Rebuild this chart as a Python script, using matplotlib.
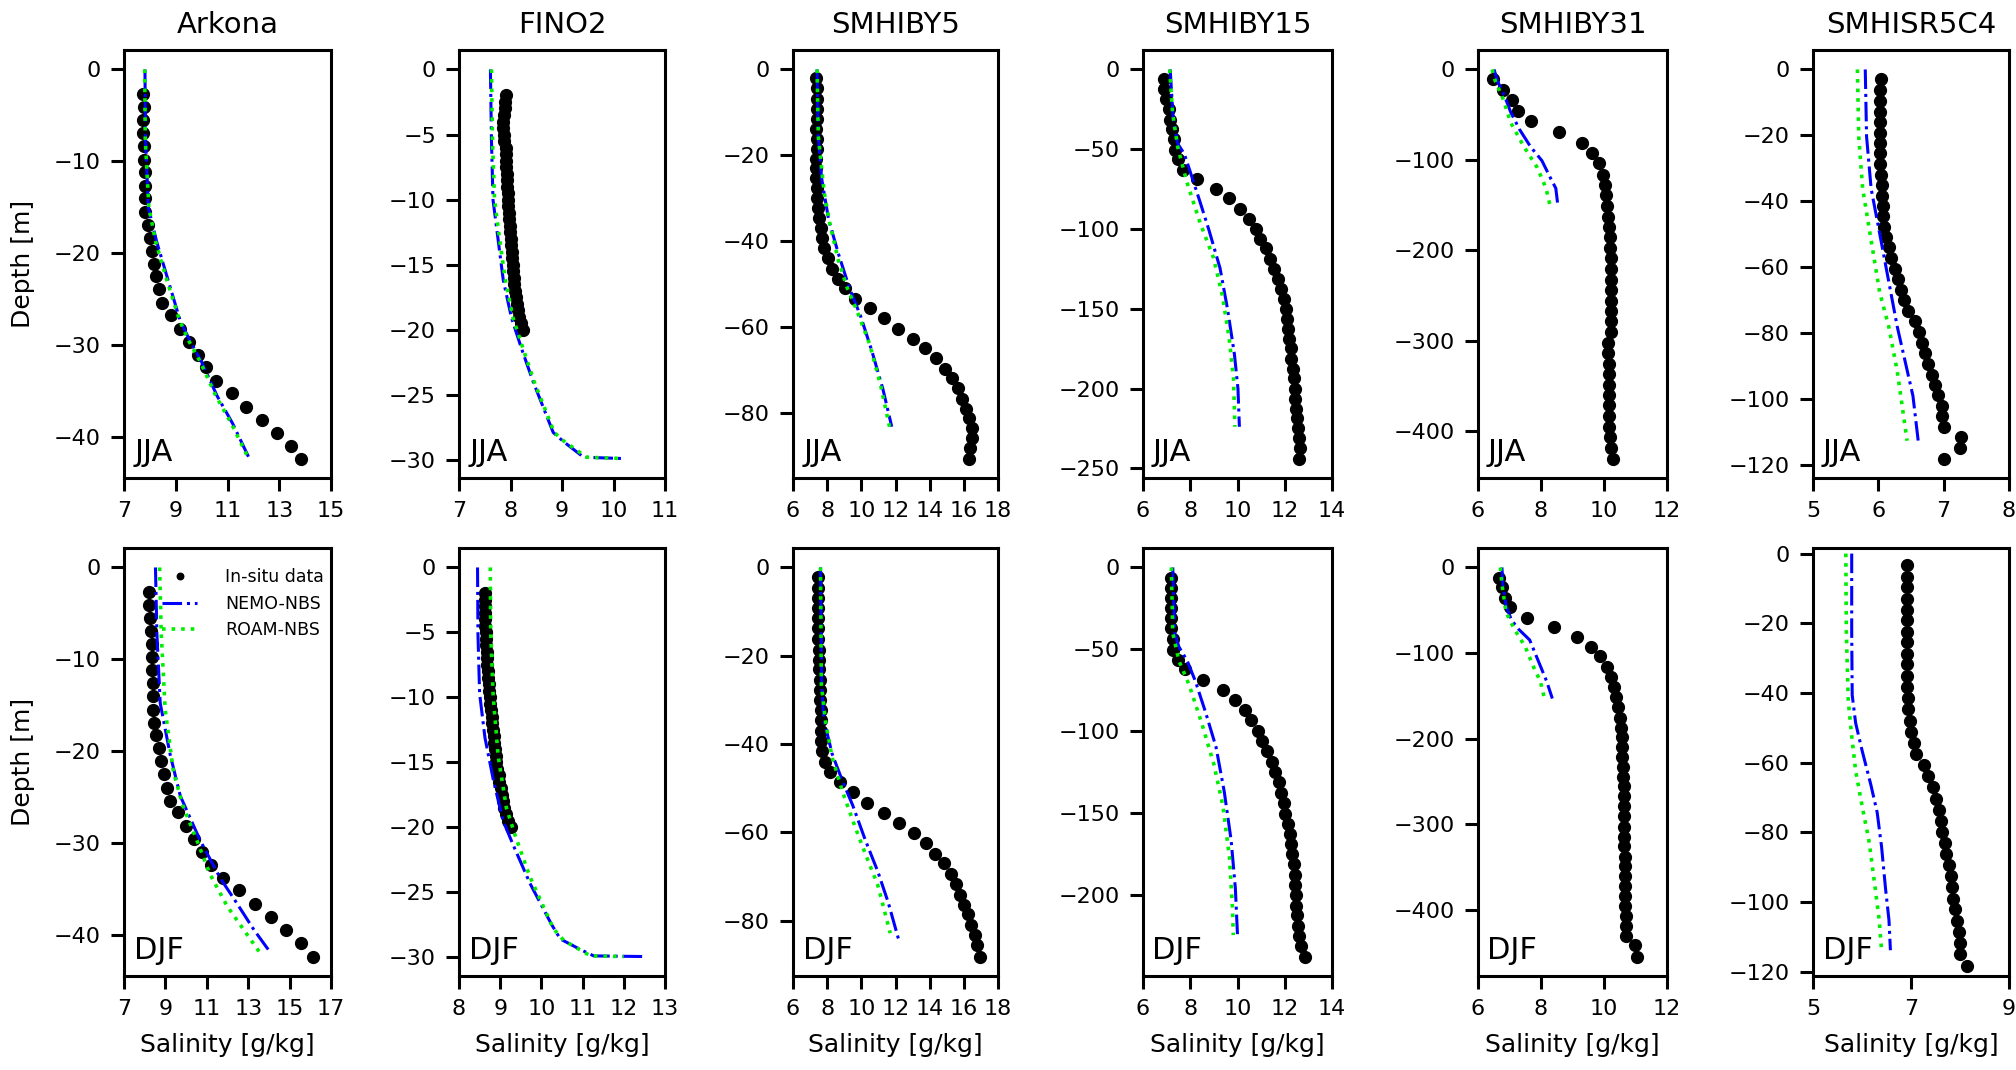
import matplotlib
matplotlib.use("Agg")
import matplotlib.pyplot as plt
from matplotlib.ticker import MultipleLocator

# ---- station names and season labels ----
stations = ["Arkona", "FINO2", "SMHIBY5", "SMHIBY15", "SMHIBY31", "SMHISR5C4"]
seasons = ["JJA", "DJF"]

# ---- Arkona ----
arkona_jja_obs_z = [-2.7, -4.1, -5.5, -6.9, -8.3, -9.8, -11.1, -12.7, -14.0, -15.5, -16.9, -18.3, -19.7,
                    -21.1, -22.5, -23.9, -25.4, -26.7, -28.2, -29.6, -31.0, -32.4, -33.9, -35.2, -36.7,
                    -38.1, -39.5, -40.9, -42.3]
arkona_jja_obs_s = [7.72, 7.77, 7.74, 7.75, 7.76, 7.77, 7.80, 7.80, 7.83, 7.83, 7.92, 8.01, 8.08,
                    8.16, 8.24, 8.34, 8.48, 8.81, 9.17, 9.50, 9.85, 10.17, 10.56, 11.19, 11.72,
                    12.35, 12.90, 13.45, 13.84]
arkona_jja_nemo_z = [0, -7.5, -15.0, -18.7, -22.4, -27.3, -29.5, -31.8, -35.5, -38.5, -42.1]
arkona_jja_nemo_s = [7.81, 7.83, 7.94, 8.26, 8.65, 9.17, 9.55, 10.0, 10.6, 11.2, 11.81]
arkona_jja_roam_z = [0, -7.5, -15.0, -18.7, -22.4, -27.3, -29.5, -31.8, -35.5, -38.5, -42.1]
arkona_jja_roam_s = [7.80, 7.82, 7.96, 8.22, 8.60, 9.15, 9.50, 9.95, 10.55, 11.15, 11.78]

arkona_djf_obs_z = [-2.7, -4.1, -5.5, -6.9, -8.3, -9.8, -11.2, -12.6, -14.0, -15.5, -16.9, -18.3, -19.7,
                    -21.1, -22.5, -24.0, -25.4, -26.7, -28.2, -29.6, -31.0, -32.4, -33.8, -35.2, -36.7,
                    -38.1, -39.5, -40.9, -42.4]
arkona_djf_obs_s = [8.21, 8.21, 8.26, 8.29, 8.34, 8.34, 8.36, 8.39, 8.39, 8.39, 8.47, 8.57, 8.68,
                    8.81, 8.91, 9.06, 9.20, 9.61, 9.98, 10.37, 10.79, 11.21, 11.79, 12.57, 13.31,
                    14.09, 14.83, 15.54, 16.13]
arkona_djf_nemo_z = [0, -7.3, -14.8, -20.4, -24.9, -29.8, -33.9, -36.1, -39.5, -41.8]
arkona_djf_nemo_s = [8.52, 8.59, 8.75, 9.23, 9.72, 10.69, 11.66, 12.31, 13.28, 14.02]
arkona_djf_roam_z = [0, -7.3, -15.5, -22.3, -26.0, -29.8, -33.5, -36.9, -39.5, -42.1]
arkona_djf_roam_s = [8.72, 8.80, 8.99, 9.39, 9.85, 10.53, 11.17, 11.98, 12.79, 13.60]

# ---- FINO2 ----
fino2_obs_z = [-2.0, -2.5, -3.0, -3.5, -4.0, -4.5, -5.0, -5.5, -6.0, -6.5, -7.0, -7.5, -8.0, -8.5,
               -9.0, -9.5, -10.0, -10.5, -11.0, -11.5, -12.0, -12.5, -13.0, -13.5, -14.0, -14.5,
               -15.0, -15.5, -16.0, -16.5, -17.0, -17.5, -18.0, -18.5, -19.0, -19.5, -20.0]
fino2_jja_obs_s = [7.91, 7.90, 7.89, 7.88, 7.86, 7.86, 7.87, 7.88, 7.91, 7.91, 7.92, 7.92, 7.93, 7.93,
                   7.94, 7.95, 7.96, 7.96, 7.97, 7.98, 7.99, 7.99, 8.00, 8.01, 8.02, 8.03,
                   8.04, 8.05, 8.06, 8.07, 8.09, 8.10, 8.12, 8.14, 8.17, 8.20, 8.24]
fino2_jja_nemo_z = [0, -5.4, -10.0, -13.1, -16.2, -19.1, -21.4, -24.0, -26.0, -27.9, -28.6, -29.8, -29.9]
fino2_jja_nemo_s = [7.61, 7.63, 7.66, 7.76, 7.86, 8.02, 8.21, 8.44, 8.64, 8.83, 9.03, 9.42, 10.19]
fino2_jja_roam_z = [0, -5.4, -10.0, -13.1, -16.2, -19.1, -21.4, -24.0, -26.0, -27.9, -28.6, -29.8, -29.9]
fino2_jja_roam_s = [7.63, 7.65, 7.69, 7.79, 7.90, 8.05, 8.24, 8.46, 8.66, 8.85, 9.05, 9.48, 10.20]

fino2_djf_obs_s = [8.63, 8.62, 8.62, 8.63, 8.63, 8.64, 8.65, 8.66, 8.66, 8.67, 8.68, 8.69, 8.70, 8.71,
                   8.72, 8.74, 8.75, 8.76, 8.78, 8.79, 8.81, 8.82, 8.84, 8.86, 8.87, 8.89,
                   8.91, 8.93, 8.96, 8.98, 9.01, 9.04, 9.07, 9.10, 9.14, 9.19, 9.25]
fino2_djf_nemo_z = [0, -5.1, -9.7, -13.1, -16.3, -19.5, -21.4, -24.3, -27.5, -28.6, -29.4, -29.9, -29.95]
fino2_djf_nemo_s = [8.45, 8.46, 8.50, 8.63, 8.83, 9.07, 9.32, 9.72, 10.25, 10.46, 10.94, 11.27, 12.49]
fino2_djf_roam_z = [0, -5.1, -9.9, -14.5, -18.5, -20.6, -23.8, -27.8, -28.7, -29.9, -29.95]
fino2_djf_roam_s = [8.76, 8.77, 8.83, 8.95, 9.15, 9.36, 9.72, 10.29, 10.54, 11.19, 12.0]

# ---- SMHIBY5 ----
by5_jja_obs_z = [-2.0, -4.4, -6.8, -9.1, -11.5, -13.8, -16.2, -18.5, -20.8, -23.0, -25.3, -27.6, -30.0,
                 -32.3, -34.6, -36.9, -39.3, -41.5, -43.8, -46.4, -48.7, -50.9, -53.3, -55.6, -57.9,
                 -60.3, -62.8, -64.8, -67.2, -69.7, -71.8, -74.1, -76.6, -78.9, -81.1, -83.4, -85.7,
                 -88.1, -90.5]
by5_jja_obs_s = [7.35, 7.41, 7.41, 7.41, 7.41, 7.35, 7.41, 7.41, 7.35, 7.35, 7.35, 7.41, 7.41,
                 7.46, 7.51, 7.61, 7.72, 7.82, 8.03, 8.29, 8.66, 9.02, 9.65, 10.48, 11.34,
                 12.17, 13.00, 13.73, 14.39, 14.90, 15.32, 15.64, 15.90, 16.10, 16.31, 16.47, 16.47,
                 16.34, 16.31]
by5_jja_nemo_z = [0, -15.5, -25.2, -34.8, -42.9, -50.9, -57.4, -65.4, -74.3, -83.1]
by5_jja_nemo_s = [7.41, 7.48, 7.67, 8.08, 8.66, 9.31, 9.96, 10.61, 11.26, 11.78]
by5_jja_roam_z = [0, -15.5, -28.4, -35.6, -44.5, -50.9, -55.7, -63.8, -73.5, -83.1]
by5_jja_roam_s = [7.41, 7.48, 7.82, 8.14, 8.66, 9.18, 9.70, 10.48, 11.13, 11.65]

by5_djf_obs_z = [-2.2, -4.7, -6.9, -9.2, -11.5, -13.8, -16.3, -18.6, -20.9, -23.0, -25.5, -27.7, -29.9,
                 -32.3, -34.5, -37.0, -39.2, -41.6, -44.0, -46.3, -48.6, -50.9, -53.3, -55.5, -57.8,
                 -60.2, -62.5, -64.8, -67.0, -69.4, -71.7, -74.1, -76.4, -78.5, -80.9, -83.2, -85.5,
                 -88.1]
by5_djf_obs_s = [7.48, 7.48, 7.48, 7.48, 7.48, 7.48, 7.48, 7.53, 7.53, 7.53, 7.56, 7.56, 7.56,
                 7.61, 7.61, 7.61, 7.66, 7.71, 7.90, 8.19, 8.77, 9.50, 10.31, 11.33, 12.18,
                 13.06, 13.76, 14.32, 14.86, 15.25, 15.54, 15.78, 16.02, 16.22, 16.41, 16.66, 16.75,
                 16.97]
by5_djf_nemo_z = [0, -26.6, -34.4, -42.2, -48.4, -53.9, -61.7, -68.8, -75.8, -84.2]
by5_djf_nemo_s = [7.61, 7.68, 7.80, 8.29, 8.90, 9.50, 10.23, 10.96, 11.57, 12.18]
by5_djf_roam_z = [0, -26.6, -35.2, -43.0, -50.8, -58.6, -64.8, -71.9, -82.8]
by5_djf_roam_s = [7.61, 7.66, 7.92, 8.29, 8.90, 9.62, 10.23, 10.96, 11.69]

# ---- SMHIBY15 ----
by15_jja_obs_z = [-5.8, -12.3, -18.4, -24.9, -31.4, -37.4, -43.7, -50.2, -56.3, -62.8, -68.6, -74.7,
                  -80.7, -87.2, -93.5, -99.8, -106.1, -112.1, -118.6, -124.9, -131.4, -137.4, -143.9,
                  -150.0, -156.3, -162.6, -168.8, -174.9, -181.2, -187.7, -193.7, -200.2, -206.5,
                  -212.8, -218.6, -224.9, -231.0, -237.4, -243.9]
by15_jja_obs_s = [6.89, 6.91, 6.96, 7.08, 7.15, 7.23, 7.30, 7.34, 7.47, 7.70, 8.30, 9.09,
                  9.66, 10.11, 10.49, 10.77, 10.96, 11.19, 11.38, 11.55, 11.72, 11.85, 11.96,
                  12.04, 12.09, 12.13, 12.19, 12.25, 12.28, 12.34, 12.38, 12.42, 12.43,
                  12.47, 12.53, 12.57, 12.60, 12.64, 12.60]
by15_jja_nemo_z = [0, -31.4, -46.5, -53.0, -66.0, -83.3, -100.6, -124.5, -150.4, -178.6, -200.2, -224.0]
by15_jja_nemo_s = [7.15, 7.28, 7.47, 7.75, 8.04, 8.42, 8.79, 9.26, 9.58, 9.87, 10.02, 10.08]
by15_jja_roam_z = [0, -27.1, -48.7, -70.3, -96.3, -117.9, -141.8, -167.7, -193.7, -224.0]
by15_jja_roam_s = [7.13, 7.25, 7.47, 7.85, 8.42, 8.98, 9.36, 9.64, 9.83, 9.89]

by15_djf_obs_z = [-6.3, -12.7, -18.6, -24.7, -31.0, -37.3, -43.9, -50.2, -56.5, -62.2, -69.0, -74.9,
                  -81.0, -87.3, -93.5, -99.8, -105.9, -112.2, -119.2, -124.9, -131.2, -137.6, -144.1,
                  -150.4, -156.8, -162.9, -168.8, -175.1, -181.4, -187.8, -194.1, -200.4, -206.8,
                  -212.7, -219.0, -225.1, -231.4, -237.8]
by15_djf_obs_s = [7.19, 7.17, 7.20, 7.20, 7.20, 7.20, 7.26, 7.29, 7.47, 7.78, 8.53, 9.39,
                  9.89, 10.31, 10.59, 10.85, 11.03, 11.25, 11.46, 11.59, 11.74, 11.86, 11.95,
                  12.02, 12.14, 12.23, 12.27, 12.32, 12.39, 12.42, 12.42, 12.47, 12.49,
                  12.53, 12.56, 12.61, 12.67, 12.84]
by15_djf_nemo_z = [0, -40.1, -48.5, -57.0, -69.6, -88.6, -109.7, -137.1, -166.7, -196.2, -224.7]
by15_djf_nemo_s = [7.26, 7.34, 7.52, 7.87, 8.22, 8.65, 9.09, 9.44, 9.73, 9.91, 10.0]
by15_djf_roam_z = [0, -40.1, -57.0, -71.7, -94.9, -120.3, -145.6, -177.2, -208.9, -224.7]
by15_djf_roam_s = [7.20, 7.26, 7.52, 7.95, 8.48, 9.00, 9.38, 9.66, 9.79, 9.82]

# ---- SMHIBY31 ----
by31_jja_obs_z = [-10.3, -22.2, -34.0, -45.9, -57.4, -69.6, -81.8, -92.5, -104.0, -116.3, -127.7, -139.2,
                  -151.4, -162.9, -174.4, -185.8, -197.3, -209.2, -220.7, -232.9, -244.4, -255.8,
                  -267.3, -278.8, -290.2, -302.5, -313.9, -325.8, -337.3, -348.8, -360.2, -371.7,
                  -384.0, -395.4, -406.9, -418.4, -430.6]
by31_jja_obs_s = [6.48, 6.80, 7.07, 7.28, 7.67, 8.58, 9.31, 9.62, 9.83, 9.96, 10.03, 10.07,
                  10.10, 10.13, 10.16, 10.19, 10.20, 10.21, 10.21, 10.21, 10.21, 10.21,
                  10.21, 10.21, 10.21, 10.13, 10.13, 10.16, 10.16, 10.16, 10.16, 10.16,
                  10.16, 10.16, 10.20, 10.23, 10.27]
by31_jja_nemo_z = [0, -13.0, -28.3, -47.4, -66.5, -85.6, -101.0, -120.1, -131.5, -151.8]
by31_jja_nemo_s = [6.51, 6.62, 6.83, 7.04, 7.32, 7.67, 8.03, 8.30, 8.47, 8.54]
by31_jja_roam_z = [0, -13.0, -32.1, -58.9, -85.6, -108.6, -131.5, -152.6]
by31_jja_roam_s = [6.45, 6.55, 6.79, 7.04, 7.46, 7.88, 8.16, 8.30]

by31_djf_obs_z = [-12.1, -23.4, -35.5, -46.4, -58.5, -69.4, -81.5, -92.7, -104.0, -116.1, -128.2, -139.5,
                  -152.0, -163.3, -175.4, -187.1, -198.4, -209.7, -221.0, -233.1, -244.4, -256.0,
                  -267.3, -279.0, -291.1, -303.2, -314.5, -325.8, -337.9, -349.2, -360.9, -372.2,
                  -383.9, -395.2, -407.3, -419.4, -430.6, -441.5, -454.8]
by31_djf_obs_s = [6.68, 6.75, 6.85, 7.02, 7.54, 8.40, 9.14, 9.60, 9.87, 10.09, 10.23, 10.32,
                  10.39, 10.46, 10.50, 10.54, 10.57, 10.57, 10.58, 10.60, 10.60, 10.62,
                  10.64, 10.64, 10.64, 10.64, 10.65, 10.65, 10.68, 10.68, 10.68, 10.68,
                  10.68, 10.68, 10.71, 10.71, 10.71, 10.97, 11.05]
by31_djf_nemo_z = [0, -20.2, -44.4, -61.3, -72.6, -84.7, -108.9, -133.1, -153.2]
by31_djf_nemo_s = [6.76, 6.79, 6.89, 7.06, 7.30, 7.64, 7.91, 8.18, 8.36]
by31_djf_roam_z = [0, -20.2, -52.4, -72.6, -92.7, -116.9, -133.1, -153.2]
by31_djf_roam_s = [6.71, 6.76, 6.89, 7.16, 7.50, 7.77, 7.98, 8.11]

# ---- SMHISR5C4 ----
sr5_jja_obs_z = [-2.8, -6.3, -9.5, -12.8, -16.0, -19.2, -22.3, -25.5, -28.6, -32.0, -35.1, -38.3, -41.4,
                 -44.5, -47.7, -50.8, -54.0, -57.3, -60.6, -63.7, -66.9, -70.0, -73.4, -76.5, -79.7,
                 -83.0, -86.2, -89.4, -92.6, -95.7, -98.8, -102.2, -105.3, -108.5, -111.6, -115.0,
                 -118.1]
sr5_jja_obs_s = [6.04, 6.03, 6.03, 6.03, 6.03, 6.03, 6.03, 6.03, 6.03, 6.04, 6.05, 6.06, 6.07,
                 6.07, 6.09, 6.11, 6.16, 6.20, 6.26, 6.30, 6.34, 6.39, 6.45, 6.56, 6.63,
                 6.67, 6.71, 6.76, 6.82, 6.86, 6.91, 6.97, 6.98, 7.00, 7.26, 7.25,
                 7.00]
sr5_jja_nemo_z = [0, -20.4, -36.2, -46.6, -57.1, -67.6, -78.1, -88.6, -99.1, -112.7]
sr5_jja_nemo_s = [5.80, 5.82, 5.89, 5.99, 6.09, 6.19, 6.29, 6.41, 6.53, 6.61]
sr5_jja_roam_z = [0, -20.4, -36.2, -51.9, -67.6, -78.1, -91.7, -112.7]
sr5_jja_roam_s = [5.68, 5.70, 5.76, 5.89, 6.02, 6.16, 6.29, 6.44]

sr5_djf_obs_z = [-3.2, -6.7, -9.6, -12.9, -16.1, -19.1, -22.4, -25.5, -28.7, -31.8, -35.2, -38.3, -41.5,
                 -44.6, -47.9, -51.1, -54.4, -57.4, -60.6, -63.8, -67.0, -70.3, -73.5, -76.7, -79.9,
                 -83.1, -86.2, -89.4, -92.6, -95.8, -99.1, -102.1, -105.4, -108.5, -111.7, -114.8,
                 -118.2]
sr5_djf_obs_s = [6.91, 6.91, 6.91, 6.91, 6.91, 6.91, 6.91, 6.91, 6.91, 6.91, 6.91, 6.91, 6.93,
                 6.93, 6.97, 7.01, 7.06, 7.11, 7.26, 7.35, 7.44, 7.51, 7.58, 7.61, 7.64,
                 7.69, 7.72, 7.77, 7.81, 7.84, 7.86, 7.89, 7.94, 7.98, 7.99, 8.00,
                 8.14]
sr5_djf_nemo_z = [0, -22.6, -40.6, -48.6, -56.4, -66.3, -74.3, -84.2, -96.1, -105.1, -113.8]
sr5_djf_nemo_s = [5.79, 5.79, 5.80, 5.87, 6.00, 6.18, 6.31, 6.40, 6.48, 6.55, 6.58]
sr5_djf_roam_z = [0, -22.6, -42.4, -52.4, -62.3, -72.3, -82.2, -96.1, -105.1, -113.8]
sr5_djf_roam_s = [5.67, 5.68, 5.72, 5.79, 5.87, 6.00, 6.14, 6.27, 6.35, 6.40]

# ---- x ticks per panel, y tick step per column ----
xticks = {
    ("Arkona", "JJA"): [7, 9, 11, 13, 15], ("Arkona", "DJF"): [7, 9, 11, 13, 15, 17],
    ("FINO2", "JJA"): [7, 8, 9, 10, 11], ("FINO2", "DJF"): [8, 9, 10, 11, 12, 13],
    ("SMHIBY5", "JJA"): [6, 8, 10, 12, 14, 16, 18], ("SMHIBY5", "DJF"): [6, 8, 10, 12, 14, 16, 18],
    ("SMHIBY15", "JJA"): [6, 8, 10, 12, 14], ("SMHIBY15", "DJF"): [6, 8, 10, 12, 14],
    ("SMHIBY31", "JJA"): [6, 8, 10, 12], ("SMHIBY31", "DJF"): [6, 8, 10, 12],
    ("SMHISR5C4", "JJA"): [5, 6, 7, 8], ("SMHISR5C4", "DJF"): [5, 7, 9],
}
ysteps = [10, 5, 20, 50, 100, 20]

# tabella dei pannelli costruita dalle liste sopra
panels = {
    ("Arkona", "JJA"): (arkona_jja_obs_z, arkona_jja_obs_s, arkona_jja_nemo_z, arkona_jja_nemo_s, arkona_jja_roam_z, arkona_jja_roam_s),
    ("Arkona", "DJF"): (arkona_djf_obs_z, arkona_djf_obs_s, arkona_djf_nemo_z, arkona_djf_nemo_s, arkona_djf_roam_z, arkona_djf_roam_s),
    ("FINO2", "JJA"): (fino2_obs_z, fino2_jja_obs_s, fino2_jja_nemo_z, fino2_jja_nemo_s, fino2_jja_roam_z, fino2_jja_roam_s),
    ("FINO2", "DJF"): (fino2_obs_z, fino2_djf_obs_s, fino2_djf_nemo_z, fino2_djf_nemo_s, fino2_djf_roam_z, fino2_djf_roam_s),
    ("SMHIBY5", "JJA"): (by5_jja_obs_z, by5_jja_obs_s, by5_jja_nemo_z, by5_jja_nemo_s, by5_jja_roam_z, by5_jja_roam_s),
    ("SMHIBY5", "DJF"): (by5_djf_obs_z, by5_djf_obs_s, by5_djf_nemo_z, by5_djf_nemo_s, by5_djf_roam_z, by5_djf_roam_s),
    ("SMHIBY15", "JJA"): (by15_jja_obs_z, by15_jja_obs_s, by15_jja_nemo_z, by15_jja_nemo_s, by15_jja_roam_z, by15_jja_roam_s),
    ("SMHIBY15", "DJF"): (by15_djf_obs_z, by15_djf_obs_s, by15_djf_nemo_z, by15_djf_nemo_s, by15_djf_roam_z, by15_djf_roam_s),
    ("SMHIBY31", "JJA"): (by31_jja_obs_z, by31_jja_obs_s, by31_jja_nemo_z, by31_jja_nemo_s, by31_jja_roam_z, by31_jja_roam_s),
    ("SMHIBY31", "DJF"): (by31_djf_obs_z, by31_djf_obs_s, by31_djf_nemo_z, by31_djf_nemo_s, by31_djf_roam_z, by31_djf_roam_s),
    ("SMHISR5C4", "JJA"): (sr5_jja_obs_z, sr5_jja_obs_s, sr5_jja_nemo_z, sr5_jja_nemo_s, sr5_jja_roam_z, sr5_jja_roam_s),
    ("SMHISR5C4", "DJF"): (sr5_djf_obs_z, sr5_djf_obs_s, sr5_djf_nemo_z, sr5_djf_nemo_s, sr5_djf_roam_z, sr5_djf_roam_s),
}

# ---- layout (pixel edges of the axes in a 2016x1070 figure) ----
W, H = 2016, 1070
lefts = [124, 459, 793, 1143, 1478, 1813]
rights = [331, 665, 998, 1332, 1667, 2009]
row_top = [50, 548]
row_bot = [478, 976]

plt.rcParams["font.family"] = "DejaVu Sans"
plt.rcParams["font.size"] = 16
plt.rcParams["axes.linewidth"] = 2.2
for ax_name in ("xtick", "ytick"):
    plt.rcParams[f"{ax_name}.major.size"] = 9.5
    plt.rcParams[f"{ax_name}.major.width"] = 2.2
    plt.rcParams[f"{ax_name}.major.pad"] = 7
    plt.rcParams[f"{ax_name}.labelsize"] = 16

fig = plt.figure(figsize=(W / 100, H / 100), dpi=100)

for r, season in enumerate(seasons):
    for c, name in enumerate(stations):
        l = lefts[c] / W
        b = 1 - row_bot[r] / H
        w = (rights[c] - lefts[c]) / W
        h = (row_bot[r] - row_top[r]) / H
        ax = fig.add_axes([l, b, w, h])

        oz, os_, nz, ns, rz, rs = panels[(name, season)]
        ax.plot(os_, oz, "o", color="black", markersize=8.5, label="In-situ data")
        ax.plot(ns, nz, "-.", color="#0000ff", linewidth=2.2, label="NEMO-NBS")
        ax.plot(rs, rz, ":", color="#00ee00", linewidth=2.6, label="ROAM-NBS")

        ticks = xticks[(name, season)]
        ax.set_xlim(ticks[0], ticks[-1])
        ax.set_xticks(ticks)
        ax.yaxis.set_major_locator(MultipleLocator(ysteps[c]))
        if (name, season) == ("SMHISR5C4", "DJF"):
            ax.set_ylim(-121.2, 1.6)

        ax.text(0.05, 0.025, season, transform=ax.transAxes, fontsize=22,
                ha="left", va="bottom")

        if r == 0:
            ax.set_title(name, fontsize=21, pad=12)
        else:
            ax.set_xlabel("Salinity [g/kg]", fontsize=18, labelpad=10)
        if c == 0:
            ax.set_ylabel("Depth [m]", fontsize=18, labelpad=14)
        if r == 1 and c == 0:
            ax.legend(loc="upper right", frameon=False, fontsize=12.5,
                      markerscale=0.55, bbox_to_anchor=(1.04, 0.99),
                      handletextpad=1.6)

fig.savefig("out.png", dpi=100)
